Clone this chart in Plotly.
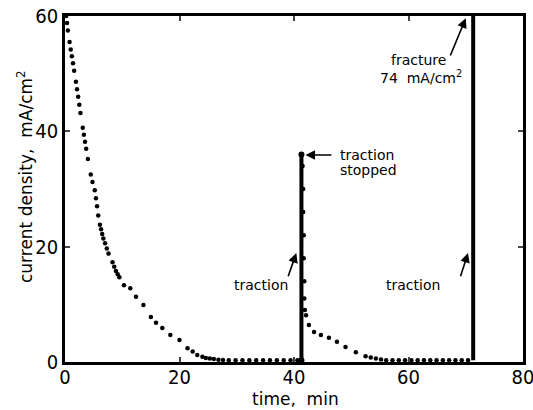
import plotly.graph_objects as go

# --- data ---
decay1_t = [0.2, 0.35, 0.5, 0.8, 1.0, 1.2, 1.4, 1.6, 1.9, 2.1, 2.3, 2.5, 2.7, 3.1, 3.3, 3.5, 3.7,
            4.0, 4.5, 4.8, 5.2, 5.4, 5.6, 5.8, 6.1, 6.3, 6.5, 6.7, 7.0, 7.3, 7.6, 8.3, 8.6, 8.9,
            9.2, 9.5, 10.3, 11.4, 12.4, 13.7, 15.0, 15.9, 17.0, 18.4, 20.0,
            21.4, 22.3, 23.1, 24.0, 24.6, 25.3, 26.0, 26.8, 27.6]
decay1_y = [60, 58.8, 57.5, 55.5, 54.2, 53, 51.8, 50.5, 48.6, 47.3, 46, 44.6, 43.2, 40.6, 39.4,
            38.2, 37.0, 35.2, 32.5, 31.2, 29.8, 28.4, 27, 25.4, 23.8, 23.0, 22.2, 21.4, 20.6,
            19.7, 18.8, 17.3, 16.5, 15.8, 15.2, 14.7, 13.3, 12.8, 11.3, 9.9, 7.8, 6.8, 5.9, 4.7, 3.8,
            2.4, 1.8, 1.2, 0.9, 0.7, 0.6, 0.5, 0.4, 0.35]
base1_t = [28.6, 29.8, 31.0, 32.2, 33.4, 34.6, 35.8, 37.0, 38.2, 39.4, 40.6]
base1_y = [0.3, 0.3, 0.3, 0.3, 0.3, 0.3, 0.3, 0.3, 0.3, 0.3, 0.3]

traction1_t = [41.3, 41.3]
traction1_y = [0.3, 36]
return1_t = [41.5, 41.6, 41.6, 41.7, 41.7, 41.8, 41.8, 41.9]
return1_y = [34, 30, 26, 22, 18, 14, 11, 9]

decay2_t = [42.1, 42.6, 43.5, 44.7, 46.1, 47.5, 49.0, 50.8, 52.5, 53.4, 54.3, 55.2]
decay2_y = [8.1, 6.4, 5.2, 4.7, 4.2, 3.5, 2.6, 1.7, 1.0, 0.8, 0.6, 0.45]
base2_t = [56.1, 57.2, 58.3, 59.4, 60.5, 61.6, 62.7, 63.8, 64.9, 66.0, 67.1, 68.2, 69.3, 70.4]
base2_y = [0.3, 0.3, 0.3, 0.3, 0.3, 0.3, 0.3, 0.3, 0.3, 0.3, 0.3, 0.3, 0.3, 0.3]

fracture_t = [71.3, 71.3]
fracture_y = [0.3, 74]

x_ticks = [0, 20, 40, 60, 80]
y_ticks = [0, 20, 40, 60]

FONT = "DejaVu Sans"
TICKFONT = "Liberation Sans Narrow, DejaVu Sans Condensed, Liberation Sans"
fig = go.Figure()
dot = dict(color="black", size=4.5)
for t, y in [(decay1_t, decay1_y), (base1_t, base1_y), (return1_t, return1_y),
             (decay2_t, decay2_y), (base2_t, base2_y)]:
    fig.add_trace(go.Scatter(x=t, y=y, mode="markers", marker=dot, showlegend=False, cliponaxis=False))
fig.add_trace(go.Scatter(x=traction1_t, y=traction1_y, mode="lines+markers",
                         line=dict(color="black", width=4), marker=dict(color="black", size=6),
                         showlegend=False))
fig.add_trace(go.Scatter(x=fracture_t, y=fracture_y, mode="lines",
                         line=dict(color="black", width=4), showlegend=False))

ann = []
def txt(x, y, s, xanchor="center"):
    ann.append(dict(x=x, y=y, xref="x", yref="y", text=s, showarrow=False,
                    xanchor=xanchor, yanchor="middle", font=dict(family=FONT, size=14, color="black")))
def arr(x, y, ax, ay):
    ann.append(dict(x=x, y=y, ax=ax, ay=ay, xref="x", yref="y", axref="x", ayref="y",
                    text="", showarrow=True, arrowhead=2, arrowsize=1.2, arrowwidth=1.6,
                    arrowcolor="black"))

txt(61.8, 52.4, "fracture")
txt(62.2, 49.4, "74  mA/cm<sup>2</sup>")
arr(70.0, 59.6, 67.2, 52.9)
txt(47.6, 35.9, "traction", "left")
txt(47.6, 33.3, "stopped", "left")
arr(42.0, 35.9, 46.8, 35.9)
txt(34.3, 13.4, "traction")
arr(40.4, 18.9, 38.9, 14.6)
txt(60.8, 13.4, "traction")
arr(70.4, 18.9, 69.0, 14.6)

# axis titles placed as text
ann.append(dict(x=0.503, y=-0.108, xref="paper", yref="paper", text="time,  min", showarrow=False,
                xanchor="center", yanchor="middle", font=dict(family=FONT, size=17, color="black")))
ann.append(dict(x=-0.087, y=0.535, xref="paper", yref="paper", text="current density,  mA/cm<sup>2</sup>",
                showarrow=False, textangle=-90, xanchor="center", yanchor="middle",
                font=dict(family=FONT, size=17, color="black")))

fig.update_layout(
    width=533, height=410, margin=dict(l=65, r=10, t=16, b=48),
    paper_bgcolor="white", plot_bgcolor="white",
    font=dict(family=FONT, color="black"),
    annotations=ann,
    xaxis=dict(range=[0, 80], tickvals=x_ticks, ticks="inside", ticklen=5, tickwidth=2,
               showgrid=False, zeroline=False, showline=True, linecolor="black", linewidth=2.5,
               mirror="ticks", tickfont=dict(size=20, family=TICKFONT), automargin=False,
               ticklabeloverflow="allow", ticklabelstandoff=-5),
    yaxis=dict(range=[0, 60], tickvals=y_ticks, ticks="inside", ticklen=5, tickwidth=2,
               showgrid=False, zeroline=False, showline=True, linecolor="black", linewidth=2.5,
               mirror="ticks", tickfont=dict(size=20, family=TICKFONT), automargin=False,
               ticklabeloverflow="allow"),
)
fig.write_html("out.html")
